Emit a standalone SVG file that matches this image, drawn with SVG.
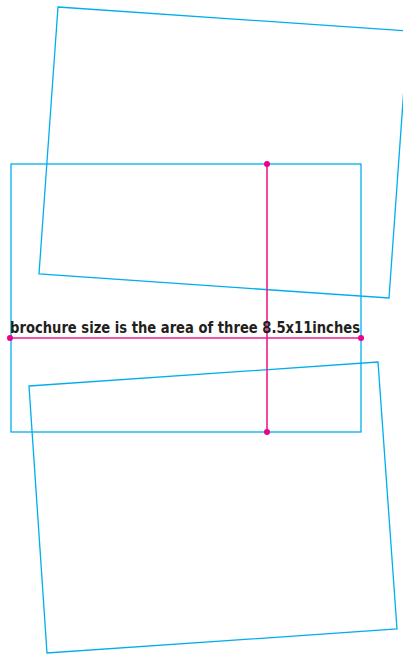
<svg xmlns="http://www.w3.org/2000/svg" width="403" height="654" viewBox="0 0 403 654">
<style>
.sheet{fill:none;stroke:#00aeef;stroke-width:1.3}
.dim{stroke:#ec1c8c;stroke-width:1.6;fill:none}
.dot{fill:#ec008c}
.lbl{font-family:"DejaVu Sans Condensed","DejaVu Sans",sans-serif;font-weight:bold;font-size:15.5px;fill:#231f20}
</style>
<rect width="403" height="654" fill="#fff"/>
<g id="sheet-top"><polygon class="sheet" points="58,7 408,31 389,298 39,274"/></g>
<g id="sheet-middle"><rect class="sheet" x="11" y="164" width="350" height="268"/></g>
<g id="sheet-bottom"><polygon class="sheet" points="29,386 378,362 397,629 47,653"/></g>
<g id="connectors">
<line class="dim" x1="10" y1="338" x2="361" y2="338"/>
<line class="dim" x1="267" y1="164" x2="267" y2="432"/>
<circle class="dot" cx="10" cy="338" r="3"/>
<circle class="dot" cx="361" cy="338" r="3"/>
<circle class="dot" cx="267" cy="164" r="3"/>
<circle class="dot" cx="267" cy="432" r="3"/>
</g>
<g id="label"><text class="lbl" x="10" y="333" textLength="350" lengthAdjust="spacingAndGlyphs">brochure size is the area of three 8.5x11inches</text></g>
</svg>
